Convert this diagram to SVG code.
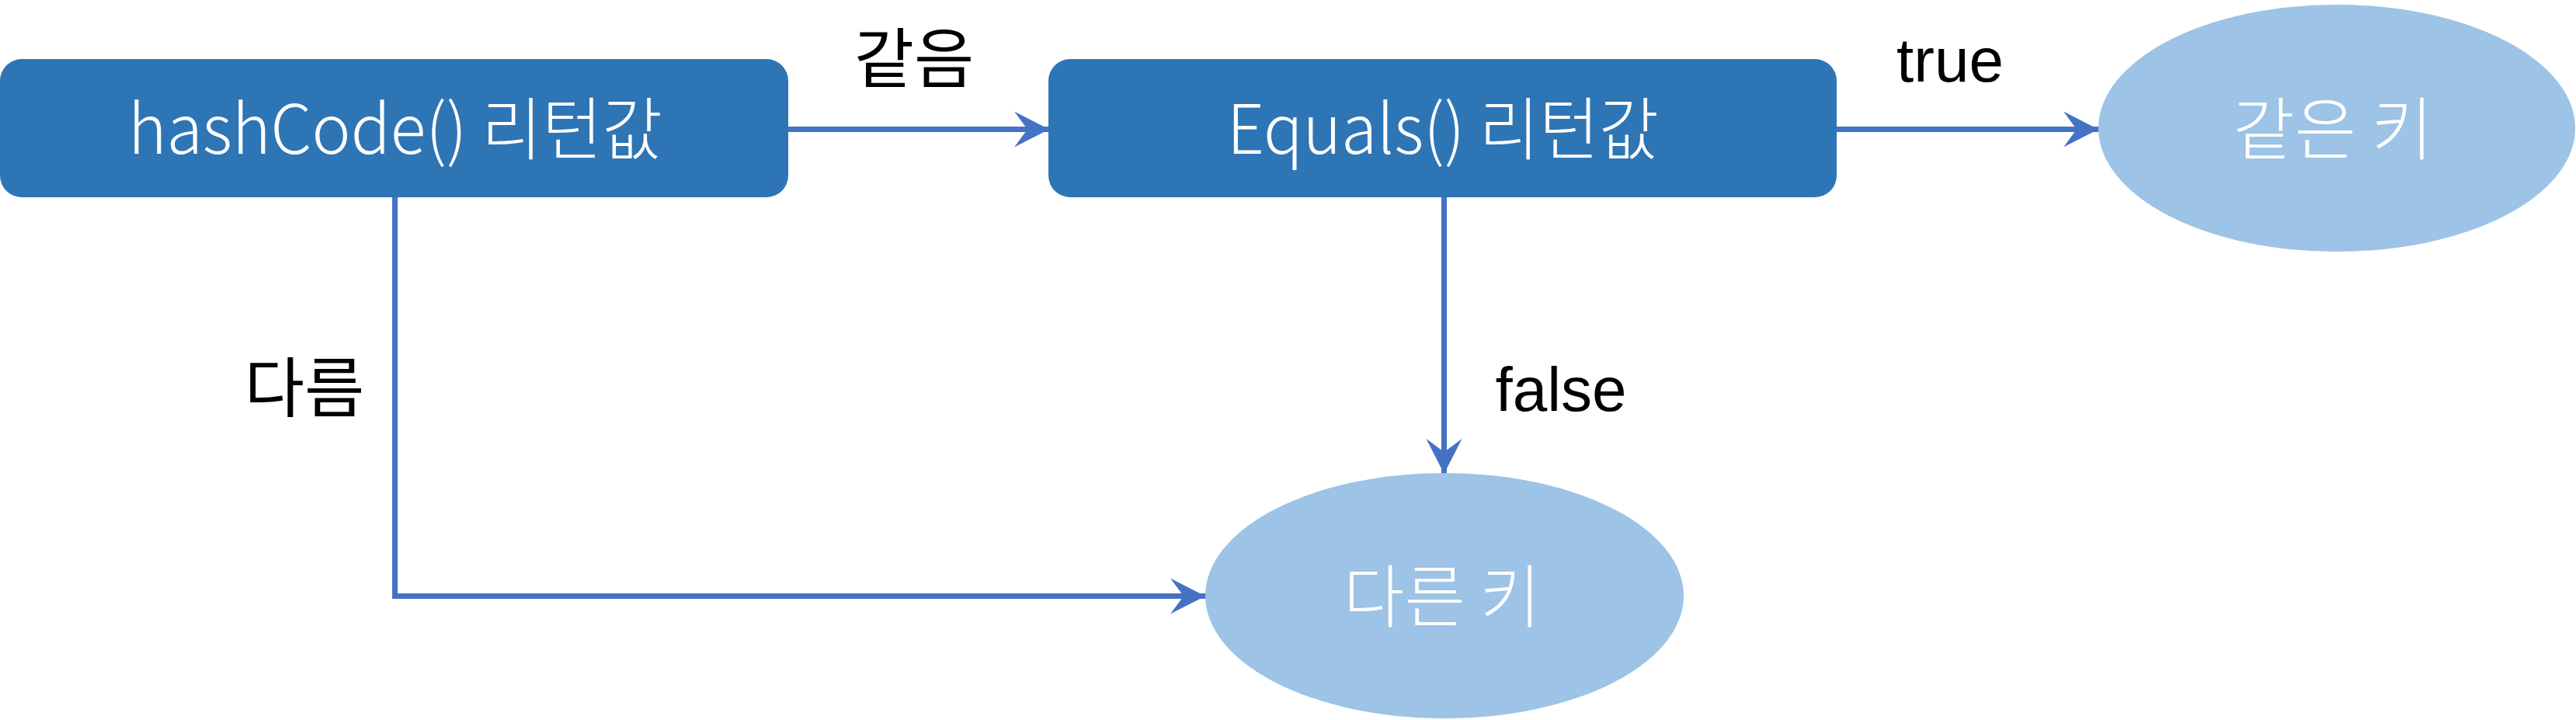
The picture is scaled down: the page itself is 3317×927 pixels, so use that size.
<svg xmlns="http://www.w3.org/2000/svg" width="3317" height="927" viewBox="0 0 3317 927">
<style>
.box{fill:#2E75B6}
.ell{fill:#9DC3E6}
.ntxt{fill:#FFFFFF;font-family:"Noto Sans CJK KR","Noto Sans",sans-serif;font-weight:300;font-size:88px;text-anchor:middle}
.ktxt{fill:#000000;font-family:"Noto Sans CJK KR",sans-serif;font-size:84px;text-anchor:middle}
.etxt{fill:#000000;font-family:"Liberation Sans",Arial,sans-serif;font-size:80px;text-anchor:middle}
.con{fill:none;stroke:#4472C4;stroke-width:7}
</style>
<defs>
<marker id="arr" viewBox="0 0 45 46" refX="45" refY="23" markerWidth="45" markerHeight="46" markerUnits="userSpaceOnUse" orient="auto">
<path d="M0,0 L45,23 L0,46 L17,23 Z" fill="#4472C4"/>
</marker>
</defs>
<g id="connectors">
<path class="con" d="M1015,166.5 L1351,166.5" marker-end="url(#arr)"/>
<path class="con" d="M2365,166.5 L2702,166.5" marker-end="url(#arr)"/>
<path class="con" d="M1859.5,254 L1859.5,610" marker-end="url(#arr)"/>
<path class="con" d="M508.5,254 L508.5,767.5 L1552,767.5" marker-end="url(#arr)"/>
<text class="ktxt" x="1177" y="106">같음</text>
<text class="etxt" x="2511" y="105">true</text>
<text class="etxt" x="2010" y="529">false</text>
<text class="ktxt" x="392" y="530">다름</text>
</g>
<g id="node-hashcode">
<rect class="box" x="0" y="76" width="1015" height="178" rx="28" ry="28"/>
<text class="ntxt" x="509" y="198" textLength="688" lengthAdjust="spacingAndGlyphs">hashCode() 리턴값</text>
</g>
<g id="node-equals">
<rect class="box" x="1350" y="76" width="1015" height="178" rx="28" ry="28"/>
<text class="ntxt" x="1858" y="198" textLength="556" lengthAdjust="spacingAndGlyphs">Equals() 리턴값</text>
</g>
<g id="node-same">
<ellipse class="ell" cx="3009" cy="165" rx="307" ry="159"/>
<text class="ntxt" x="3004" y="198" textLength="258" lengthAdjust="spacingAndGlyphs">같은 키</text>
</g>
<g id="node-diff">
<ellipse class="ell" cx="1860" cy="767" rx="308" ry="158"/>
<text class="ntxt" x="1857" y="800" textLength="254" lengthAdjust="spacingAndGlyphs">다른 키</text>
</g>
</svg>
